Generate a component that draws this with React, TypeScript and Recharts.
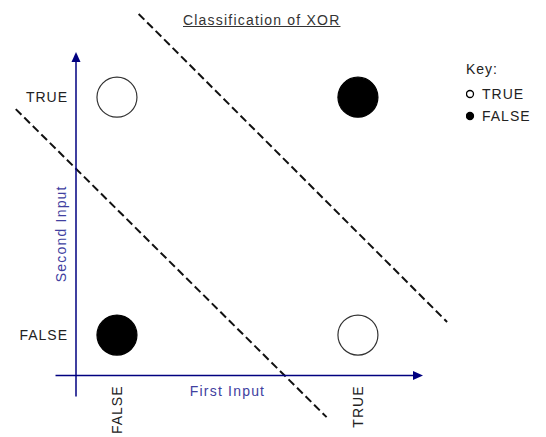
import React from "react";
import {
  ScatterChart,
  Scatter,
  XAxis,
  YAxis,
  ReferenceLine,
  Legend,
} from "recharts";

// truth table of XOR, plotted as (first input, second input)
const inputLabels = ["FALSE", "TRUE"];
const keyOrder = ["TRUE", "FALSE"];
const trueOutputs = [
  { first: 0, second: 1 },
  { first: 1, second: 0 },
];
const falseOutputs = [
  { first: 0, second: 0 },
  { first: 1, second: 1 },
];
// the two separating lines
const boundaryLow = [
  { x: -0.42, y: 0.95 },
  { x: 0.87, y: -0.345 },
];
const boundaryHigh = [
  { x: 0.09, y: 1.35 },
  { x: 1.37, y: 0.055 },
];

const X_DOMAIN = [-0.17, 1.27];
const Y_DOMAIN = [-0.17, 1.19];

const FONT = "'Liberation Sans', Arial, sans-serif";
const NAVY = "#000080";
const LABEL_BLUE = "#4040a0";

const seriesStyle: Record<string, { fill: string; stroke: string }> = {
  TRUE: { fill: "#ffffff", stroke: "#333333" },
  FALSE: { fill: "#000000", stroke: "#000000" },
};

const Arrow = (props: any) => {
  const { x1, y1, x2, y2 } = props;
  const len = Math.hypot(x2 - x1, y2 - y1) || 1;
  const dx = (x2 - x1) / len;
  const dy = (y2 - y1) / len;
  const bx = x2 - dx * 10;
  const by = y2 - dy * 10;
  const px = -dy * 4.5;
  const py = dx * 4.5;
  return (
    <g>
      <line x1={x1} y1={y1} x2={bx} y2={by} stroke={NAVY} strokeWidth={1.5} />
      <polygon
        points={`${x2},${y2} ${bx + px},${by + py} ${bx - px},${by - py}`}
        fill={NAVY}
      />
    </g>
  );
};

const XTick = (props: any) => {
  const { x, y, payload } = props;
  return (
    <text
      x={x}
      y={y}
      transform={`rotate(-90 ${x} ${y})`}
      textAnchor="end"
      dy="0.36em"
      fontFamily={FONT}
      fontSize={14}
      letterSpacing={1}
      fill="#222"
    >
      {inputLabels[payload.value]}
    </text>
  );
};

const SeriesDot = (name: string) => (props: any) => (
  <circle
    cx={props.cx}
    cy={props.cy}
    r={20}
    fill={seriesStyle[name].fill}
    stroke={seriesStyle[name].stroke}
    strokeWidth={1.2}
  />
);

const KeyContent = (props: any) => {
  const items = [...(props.payload || [])].sort(
    (a: any, b: any) => keyOrder.indexOf(a.value) - keyOrder.indexOf(b.value)
  );
  return (
    <div style={{ fontFamily: FONT, fontSize: 14, color: "#222", letterSpacing: 1 }}>
      <div style={{ marginBottom: 6 }}>Key:</div>
      {items.map((item: any) => {
        const st = seriesStyle[item.value];
        return (
          <div key={item.value} style={{ display: "flex", alignItems: "center", height: 22 }}>
            <svg width={14} height={10}>
              <circle cx={4} cy={5} r={3.5} fill={st.fill} stroke="#000" strokeWidth={1.3} />
            </svg>
            <span style={{ marginLeft: 2 }}>{item.value}</span>
          </div>
        );
      })}
    </div>
  );
};

export default function App() {
  return (
    <div style={{ position: "absolute", left: 0, top: 0, width: 546, height: 437, background: "#fff" }}>
      <div
        style={{
          position: "absolute",
          left: 183,
          top: 12,
          fontFamily: FONT,
          fontSize: 14,
          letterSpacing: 1.2,
          color: "#333",
          textDecoration: "underline",
          whiteSpace: "nowrap",
        }}
      >
        Classification of XOR
      </div>
      <ScatterChart
        width={546}
        height={437}
        margin={{ top: 52, right: 123, bottom: 0, left: 0 }}
      >
        <XAxis
          type="number"
          dataKey="first"
          domain={X_DOMAIN}
          ticks={[0, 1]}
          allowDataOverflow
          axisLine={false}
          tickLine={false}
          tickSize={0}
          tickMargin={10}
          height={61.5}
          tick={<XTick />}
          label={{
            content: (p: any) => {
              const vb = p.viewBox;
              return (
                <text
                  x={vb.x + vb.width / 2 - 22}
                  y={vb.y + 15}
                  dy="0.36em"
                  textAnchor="middle"
                  fontFamily={FONT}
                  fontSize={14}
                  letterSpacing={1.2}
                  fill={LABEL_BLUE}
                >
                  First Input
                </text>
              );
            },
          }}
        />
        <YAxis
          type="number"
          dataKey="second"
          domain={Y_DOMAIN}
          ticks={[0, 1]}
          allowDataOverflow
          axisLine={false}
          tickLine={false}
          tickSize={0}
          tickMargin={8}
          width={76}
          tickFormatter={(v: number) => inputLabels[v]}
          tick={{ fontFamily: FONT, fontSize: 14, fill: "#222", letterSpacing: 1 }}
          label={{
            content: (p: any) => {
              const vb = p.viewBox;
              const cx = vb.x + vb.width - 15;
              const cy = vb.y + vb.height / 2 + 20;
              return (
                <text
                  x={cx}
                  y={cy}
                  dy="0.36em"
                  transform={`rotate(-90 ${cx} ${cy})`}
                  textAnchor="middle"
                  fontFamily={FONT}
                  fontSize={14}
                  letterSpacing={1.2}
                  fill={LABEL_BLUE}
                >
                  Second Input
                </text>
              );
            },
          }}
        />
        <ReferenceLine
          segment={boundaryLow}
          ifOverflow="visible"
          stroke="#111"
          strokeWidth={2}
          strokeDasharray="8 4"
        />
        <ReferenceLine
          segment={boundaryHigh}
          ifOverflow="visible"
          stroke="#111"
          strokeWidth={2}
          strokeDasharray="8 4"
        />
        <ReferenceLine
          segment={[
            { x: X_DOMAIN[0], y: -0.258 },
            { x: X_DOMAIN[0], y: Y_DOMAIN[1] },
          ]}
          ifOverflow="visible"
          shape={Arrow}
        />
        <ReferenceLine
          segment={[
            { x: -0.255, y: Y_DOMAIN[0] },
            { x: X_DOMAIN[1], y: Y_DOMAIN[0] },
          ]}
          ifOverflow="visible"
          shape={Arrow}
        />
        <Scatter
          name="TRUE"
          data={trueOutputs}
          shape={SeriesDot("TRUE")}
          isAnimationActive={false}
        />
        <Scatter
          name="FALSE"
          data={falseOutputs}
          shape={SeriesDot("FALSE")}
          isAnimationActive={false}
        />
        <Legend
          layout="vertical"
          verticalAlign="middle"
          align="center"
          content={<KeyContent />}
          wrapperStyle={{ position: "absolute", left: 466, top: 61, width: 80 }}
        />
      </ScatterChart>
    </div>
  );
}
